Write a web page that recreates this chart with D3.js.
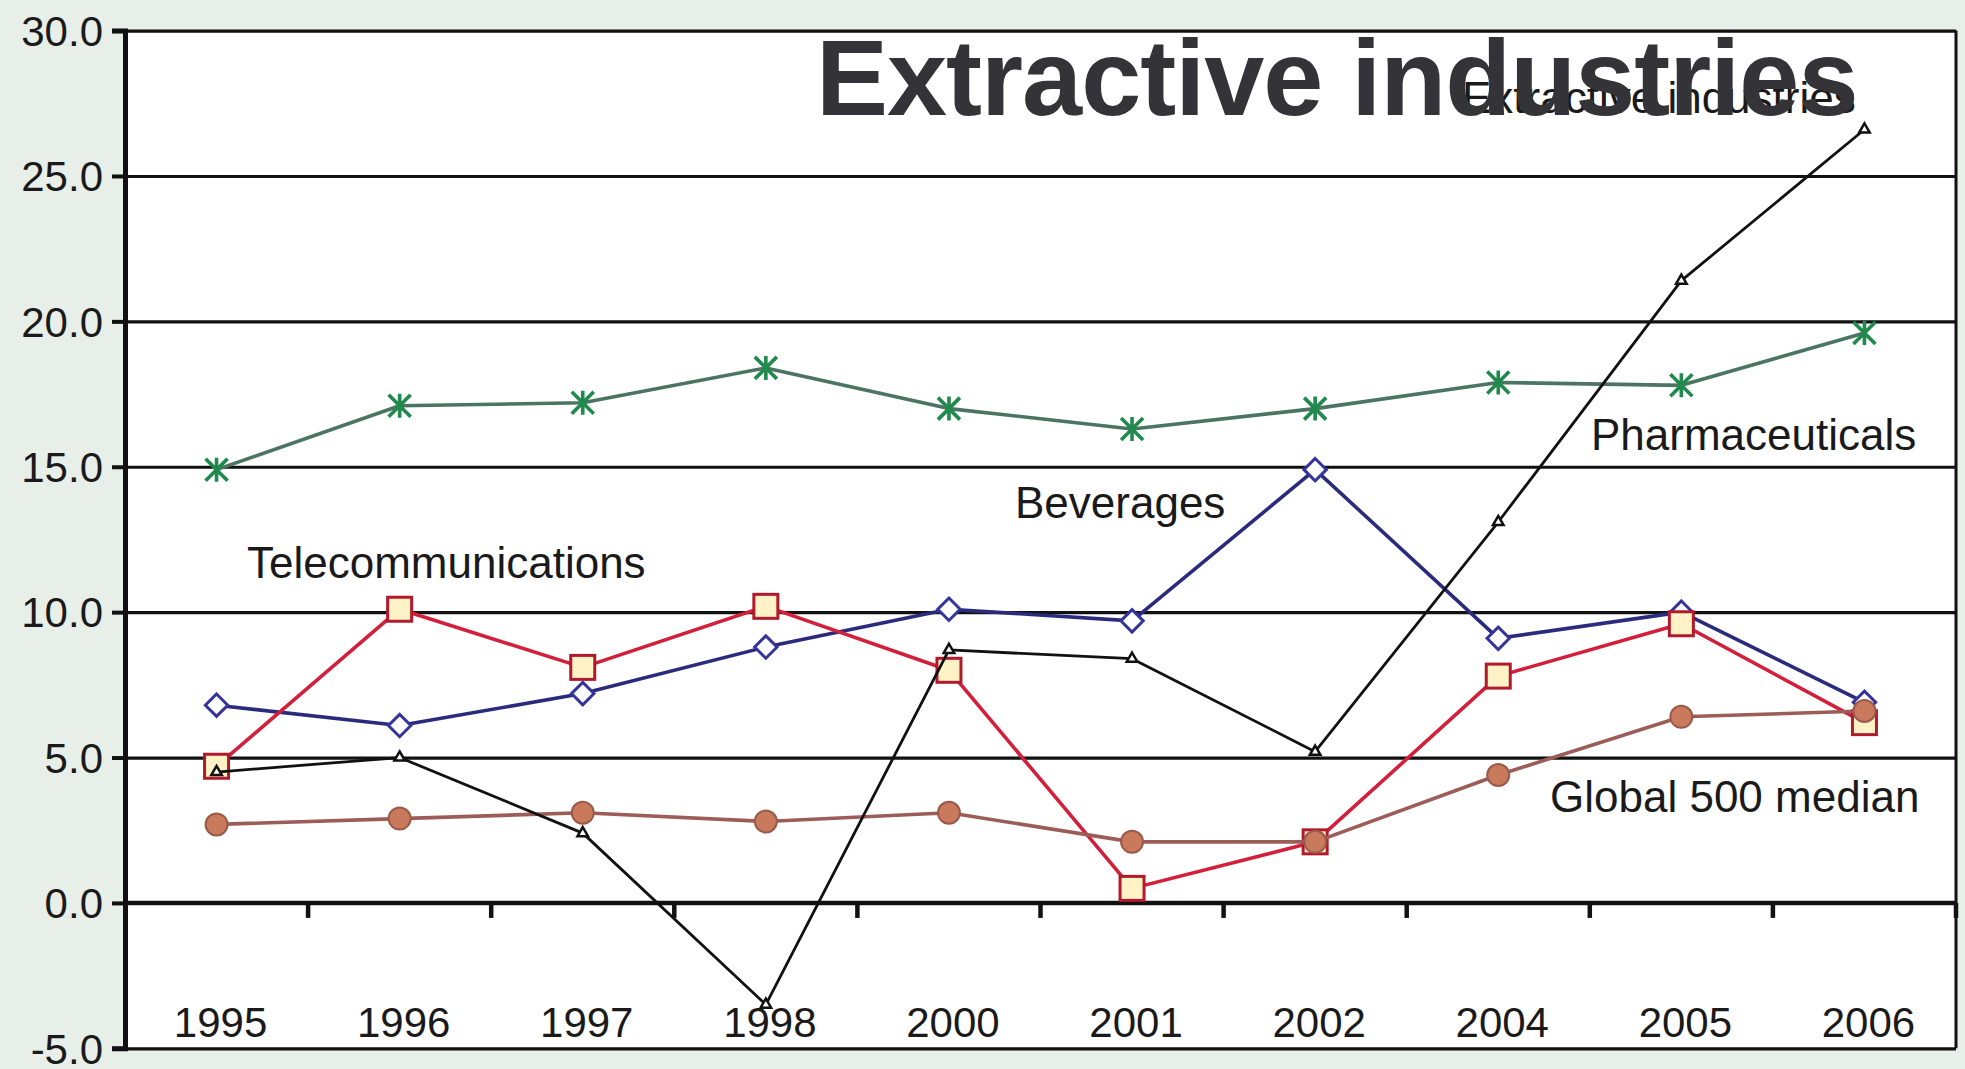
<!DOCTYPE html>
<html>
<head>
<meta charset="utf-8">
<script src="https://cdn.jsdelivr.net/npm/d3@7"></script>
<style>
  html, body { margin: 0; padding: 0; background: #e7efe8; }
  svg { display: block; }
</style>
</head>
<body>
<svg id="chart" width="1965" height="1069"></svg>
<script>
// ---- data ----
const years = ["1995","1996","1997","1998","2000","2001","2002","2004","2005","2006"];
const pharmaceuticals = [14.9, 17.1, 17.2, 18.4, 17.0, 16.3, 17.0, 17.9, 17.8, 19.6];
const beverages       = [6.8, 6.1, 7.2, 8.8, 10.1, 9.7, 14.9, 9.1, 10.0, 6.9];
const telecommunications = [4.7, 10.1, 8.1, 10.2, 8.0, 0.5, 2.1, 7.8, 9.6, 6.2];
const extractive      = [4.5, 5.0, 2.4, -3.5, 8.7, 8.4, 5.2, 13.1, 21.4, 26.6];
const global500       = [2.7, 2.9, 3.1, 2.8, 3.1, 2.1, 2.1, 4.4, 6.4, 6.6];
const yTicks = [-5, 0, 5, 10, 15, 20, 25, 30];
const seriesNames = ["Pharmaceuticals","Beverages","Telecommunications","Global 500 median","Extractive industries"];
const titleText = "Extractive industries";

(function(){
// ---- layout ----
const svg = d3.select("#chart");
const pL = 125, pR = 1956, pT = 30.6, pB = 1048.3;

svg.append("rect").attr("x",0).attr("y",0).attr("width",1965).attr("height",1069).attr("fill","#e7efe8");
svg.append("rect").attr("x",pL).attr("y",pT).attr("width",pR-pL).attr("height",pB-pT).attr("fill","#ffffff");

const x = d3.scaleBand().domain(years).range([pL, pR]).padding(0);
const y = d3.scaleLinear().domain([-5, 30]).range([pB, pT]);
const cx = d => x(d) + x.bandwidth()/2;

const font = "'Liberation Sans', Arial, Helvetica, sans-serif";

// gridlines
const grid = svg.append("g").attr("transform",`translate(${pL},0)`)
  .call(d3.axisLeft(y).tickValues(yTicks).tickSize(-(pR-pL)).tickFormat(""));
grid.select(".domain").remove();
grid.selectAll("line").attr("stroke","#111").attr("stroke-width",3.2);

// zero line a bit heavier
svg.append("line").attr("x1",pL).attr("x2",pR).attr("y1",y(0)).attr("y2",y(0))
  .attr("stroke","#111").attr("stroke-width",4.5);

// right border
svg.append("line").attr("x1",pR).attr("x2",pR).attr("y1",pT).attr("y2",pB)
  .attr("stroke","#111").attr("stroke-width",3);

// y axis
const fmt = d => d.toFixed(1);
const yAxis = svg.append("g").attr("transform",`translate(${pL},0)`)
  .call(d3.axisLeft(y).tickValues(yTicks).tickSize(13).tickPadding(10).tickFormat(fmt));
yAxis.select(".domain").attr("stroke","#111").attr("stroke-width",5);
yAxis.selectAll(".tick line").attr("stroke","#111").attr("stroke-width",4);
yAxis.selectAll("text").attr("font-family",font).attr("font-size",42).attr("fill","#1a1a1a")
  .attr("dy","0.35em").attr("x",-22);

// x ticks at category boundaries on zero line
svg.append("g").selectAll("line").data(years).join("line")
  .attr("x1", d => x(d) + x.bandwidth()).attr("x2", d => x(d) + x.bandwidth())
  .attr("y1", y(0)).attr("y2", y(0) + 15)
  .attr("stroke","#111").attr("stroke-width",4.5);

// x labels at bottom
svg.append("g").selectAll("text").data(years).join("text")
  .attr("x", d => cx(d) + 4).attr("y", pB - 11)
  .attr("text-anchor","middle").attr("font-family",font).attr("font-size",42)
  .attr("fill","#1a1a1a").text(d => d);

// ---- series ----
function pts(vals){ return years.map((yr,i)=>({yr, v: vals[i]})); }
const line = d3.line().x(d => cx(d.yr)).y(d => y(d.v));

function drawLine(vals, color, width){
  svg.append("path").datum(pts(vals)).attr("d", line)
    .attr("fill","none").attr("stroke",color).attr("stroke-width",width).attr("stroke-linejoin","round");
}

// Pharmaceuticals
drawLine(pharmaceuticals, "#4a7563", 3.6);
const star = svg.append("g").selectAll("g").data(pts(pharmaceuticals)).join("g")
  .attr("transform", d => `translate(${cx(d.yr)},${y(d.v)})`);
star.append("path").attr("d","M-11,-11L11,11M-11,11L11,-11M0,-12L0,12")
  .attr("stroke","#1f8a4c").attr("stroke-width",3.6).attr("fill","none");

// Beverages
drawLine(beverages, "#2b2b7e", 3.6);
svg.append("g").selectAll("path").data(pts(beverages)).join("path")
  .attr("d", d3.symbol(d3.symbolDiamond2, 320)())
  .attr("transform", d => `translate(${cx(d.yr)},${y(d.v)})`)
  .attr("fill","#ffffff").attr("stroke","#34349a").attr("stroke-width",3);

// Telecommunications
drawLine(telecommunications, "#d41f3b", 3.6);
svg.append("g").selectAll("rect").data(pts(telecommunications)).join("rect")
  .attr("x", d => cx(d.yr) - 12).attr("y", d => y(d.v) - 12)
  .attr("width",24).attr("height",24)
  .attr("fill","#fff2c6").attr("stroke","#b01a2c").attr("stroke-width",3);

// Global 500 median
drawLine(global500, "#9c5d58", 3.6);
svg.append("g").selectAll("circle").data(pts(global500)).join("circle")
  .attr("cx", d => cx(d.yr)).attr("cy", d => y(d.v)).attr("r",11)
  .attr("fill","#c97a5c").attr("stroke","#9a5a4a").attr("stroke-width",2);

// Extractive industries
drawLine(extractive, "#111111", 2.8);
svg.append("g").selectAll("path").data(pts(extractive)).join("path")
  .attr("d", d3.symbol(d3.symbolTriangle2, 80)())
  .attr("transform", d => `translate(${cx(d.yr)},${y(d.v)})`)
  .attr("fill","#ffffff").attr("stroke","#111").attr("stroke-width",2.5);

// ---- series labels ----
const labels = [
  {t: seriesNames[2], x: 247, y: 578},
  {t: seriesNames[1], x: 1015, y: 518},
  {t: seriesNames[0], x: 1591, y: 450},
  {t: seriesNames[3], x: 1550, y: 812},
  {t: seriesNames[4], x: 1462, y: 113}
];
svg.append("g").selectAll("text").data(labels).join("text")
  .attr("x", d => d.x).attr("y", d => d.y)
  .attr("font-family", font).attr("font-size", 44).attr("fill","#1a1a1a")
  .text(d => d.t);

// ---- big title ----
svg.append("text").attr("x", 816).attr("y", 115)
  .attr("font-family", font).attr("font-weight","bold").attr("font-size",108)
  .attr("letter-spacing","-1px").attr("fill","#333338")
  .text(titleText);
})();
</script>
</body>
</html>
